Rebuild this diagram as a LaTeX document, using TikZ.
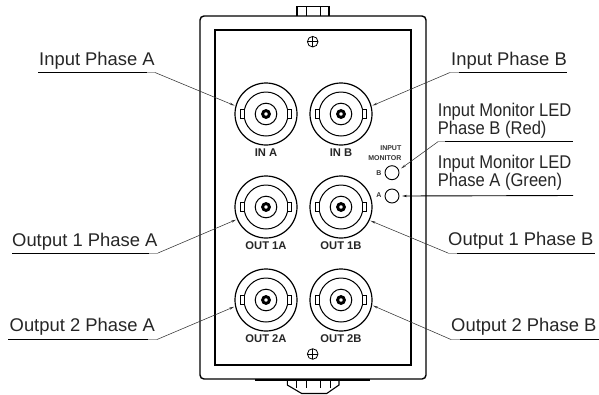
\documentclass[tikz,border=0pt]{standalone}
\usepackage{fontspec}
\setmainfont{Liberation Sans}
\newfontfamily\condfont[FakeStretch=0.9]{Liberation Sans}
\usetikzlibrary{arrows.meta}
\tikzset{
  bnc/.style={circle,draw,line width=1.2pt,minimum size=62pt,inner sep=0pt,outer sep=1.5pt},
  led/.style={circle,draw,line width=0.9pt,minimum size=14pt,inner sep=0pt,outer sep=3pt},
  calloutlabel/.style={anchor=base west,inner sep=0pt,text=black!85,font=\fontsize{18.4}{18.4}\selectfont},
  ledlabel/.style={anchor=base west,inner sep=0pt,text=black!85,align=left,font=\condfont\fontsize{18.4}{17.6}\selectfont},
  portlabel/.style={anchor=base,inner sep=0pt,text=black!85,font=\bfseries\fontsize{11.2}{11.2}\selectfont},
  paneltext/.style={inner sep=0pt,text=black!80,font=\bfseries\fontsize{7}{7}\selectfont},
  underline/.style={line width=0.9pt},
  elbow/.style={line width=0.9pt,black!35},
  leader/.style={line width=0.55pt,black!80,-{Stealth[length=5pt,width=2.2pt]}},
}
\begin{document}
\begin{tikzpicture}[x=1pt,y=-1pt]
    \useasboundingbox (0,0) rectangle (599,394);
    \draw[line width=1.4pt,rounded corners=4pt] (200,16) rectangle (426,379);
    \draw[line width=1.1pt] (215,30) rectangle (411,365);
    \draw[line width=1.1pt] (297,16) -- (297,6.7) -- (329,6.7) -- (329,16);
    \draw[line width=1pt] (306.7,6.7) -- (306.7,16);
    \draw[line width=1pt] (320,6.7) -- (320,16);
    \draw[line width=2pt] (255,380) -- (370,380);
    \draw[line width=1.1pt] (287.3,380) -- (287.3,385) -- (301.7,393.5) -- (326.7,393.5) -- (339,385) -- (339,380);
    \draw[line width=0.9pt] (296.7,380) -- (296.7,388);
    \draw[line width=0.9pt] (306.7,380) -- (306.7,388);
    \draw[line width=0.9pt] (320,380) -- (320,388);
    \draw[line width=0.9pt] (330,380) -- (330,388);
    \foreach \y in {41.7,354} {
        \draw[line width=0.8pt] (312.7,\y) circle (5.3);
        \draw[line width=0.8pt] (307.4,\y) -- (318,\y);
        \draw[line width=0.8pt] (312.7,\y-5.3) -- (312.7,\y+5.3);
    }
    \foreach \name/\x/\y/\txt in {inA/266/114/IN A,inB/341/114/IN B,outOneA/266/207/OUT 1A,outOneB/341/207/OUT 1B,outTwoA/266/300/OUT 2A,outTwoB/341/300/OUT 2B} {
        \node[bnc] (\name) at (\x,\y) {};
        \draw[line width=1pt] (\x,\y) circle (22);
        \draw[line width=1pt] (\x,\y) circle (10.8);
        \draw[line width=2.9pt] (\x,\y) circle (3.4);
        \draw[line width=0.9pt,fill=white] (\x-25.5,\y-4.5) rectangle (\x-21.2,\y+4.5);
        \draw[line width=0.9pt,fill=white] (\x+21.2,\y-4.5) rectangle (\x+25.5,\y+4.5);
        \node[portlabel] (\name label) at (\x,\y+42.7) {\txt};
    }
    \node[led] (ledB) at (392,172.7) {};
    \node[led] (ledA) at (392,196) {};
    \node[paneltext,anchor=base east] (inputtext) at (401.5,150.7) {INPUT};
    \node[paneltext,anchor=base east] (monitortext) at (401.5,160) {MONITOR};
    \node[paneltext,anchor=base] (ledBtext) at (378.8,175) {B};
    \node[paneltext,anchor=base] (ledAtext) at (378.8,197.5) {A};
    \node[calloutlabel] (inAtext) at (39,65) {Input Phase A};
    \node[calloutlabel] (inBtext) at (451,65) {Input Phase B};
    \node[calloutlabel] (outOneAtext) at (12,246) {Output 1 Phase A};
    \node[calloutlabel] (outOneBtext) at (448,245) {Output 1 Phase B};
    \node[calloutlabel] (outTwoAtext) at (9.5,331.7) {Output 2 Phase A};
    \node[calloutlabel] (outTwoBtext) at (451,331) {Output 2 Phase B};
    \node[ledlabel] (ledBlabel) at (437.7,134) {Input Monitor LED\\Phase B (Red)};
    \node[ledlabel] (ledAlabel) at (437.7,186.5) {Input Monitor LED\\Phase A (Green)};
    \coordinate (inAelbow) at (155,72.5);
    \coordinate (inBelbow) at (450,72.5);
    \coordinate (outOneAelbow) at (158,253);
    \coordinate (outOneBelbow) at (448,253);
    \coordinate (outTwoAelbow) at (157,339.5);
    \coordinate (outTwoBelbow) at (451,339.5);
    \coordinate (ledBelbow) at (438,141.7);
    \draw[underline] (38,72.5) -- (147,72.5);
    \draw[elbow] (147,72.5) -- (inAelbow);
    \draw[underline] (459,72.5) -- (567,72.5);
    \draw[elbow] (inBelbow) -- (459,72.5);
    \draw[underline] (12,253) -- (149,253);
    \draw[elbow] (149,253) -- (outOneAelbow);
    \draw[underline] (457,253) -- (595,253);
    \draw[elbow] (outOneBelbow) -- (457,253);
    \draw[underline] (8,339.5) -- (148,339.5);
    \draw[elbow] (148,339.5) -- (outTwoAelbow);
    \draw[underline] (460,339.5) -- (599,339.5);
    \draw[elbow] (outTwoBelbow) -- (460,339.5);
    \draw[underline] (445,141.7) -- (573,141.7);
    \draw[elbow] (ledBelbow) -- (445,141.7);
    \draw[leader] (inAelbow) -- (inA.165);
    \draw[leader] (inBelbow) -- (inB.15);
    \draw[leader] (outOneAelbow) -- (outOneA.203);
    \draw[leader] (outOneBelbow) -- (outOneB.-25);
    \draw[leader] (outTwoAelbow) -- (outTwoA.192);
    \draw[leader] (outTwoBelbow) -- (outTwoB.-10);
    \draw[leader] (ledBelbow) -- (ledB.25);
    \draw[underline,<-,>={Stealth[length=5pt,width=2.2pt]}] (ledA.east) -- (573,195.5);
\end{tikzpicture}
\end{document}
